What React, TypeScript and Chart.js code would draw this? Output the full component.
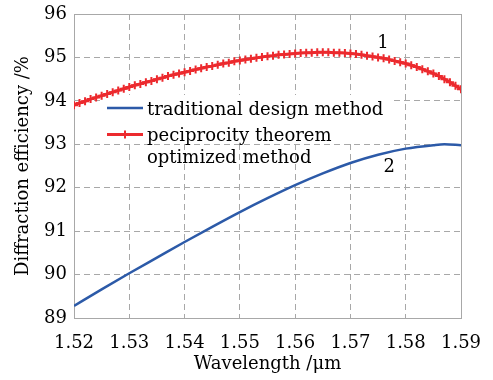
import { useEffect, useRef } from "react";
import { Chart, registerables } from "chart.js";

Chart.register(...registerables);

const WAVELENGTH_RED = [
  1.520, 1.521, 1.522, 1.523, 1.524, 1.525, 1.526, 1.527, 1.528, 1.529,
  1.530, 1.531, 1.532, 1.533, 1.534, 1.535, 1.536, 1.537, 1.538, 1.539,
  1.540, 1.541, 1.542, 1.543, 1.544, 1.545, 1.546, 1.547, 1.548, 1.549,
  1.550, 1.551, 1.552, 1.553, 1.554, 1.555, 1.556, 1.557, 1.558, 1.559,
  1.560, 1.561, 1.562, 1.563, 1.564, 1.565, 1.566, 1.567, 1.568, 1.569,
  1.570, 1.571, 1.572, 1.573, 1.574, 1.575, 1.576, 1.577, 1.578, 1.579,
  1.580, 1.581, 1.582, 1.583, 1.584, 1.585, 1.586, 1.587, 1.588, 1.589,
  1.590,
];
const EFF_RED = [
  93.90, 93.95, 93.99, 94.04, 94.08, 94.12, 94.16, 94.20, 94.24, 94.28,
  94.32, 94.36, 94.39, 94.43, 94.46, 94.50, 94.53, 94.57, 94.60, 94.63,
  94.66, 94.69, 94.72, 94.75, 94.78, 94.80, 94.83, 94.86, 94.88, 94.91,
  94.93, 94.95, 94.97, 94.99, 95.01, 95.03, 95.04, 95.06, 95.07, 95.08,
  95.09, 95.10, 95.11, 95.11, 95.12, 95.12, 95.12, 95.11, 95.11, 95.10,
  95.09, 95.08, 95.06, 95.04, 95.02, 95.00, 94.98, 94.95, 94.92, 94.89,
  94.86, 94.82, 94.78, 94.73, 94.68, 94.63, 94.57, 94.50, 94.43, 94.35,
  94.27,
];

const WAVELENGTH_BLUE = [
  1.520, 1.525, 1.530, 1.535, 1.540, 1.545, 1.550, 1.555,
  1.560, 1.565, 1.570, 1.575, 1.580, 1.585, 1.587, 1.590,
];
const EFF_BLUE = [
  89.28, 89.66, 90.03, 90.39, 90.75, 91.10, 91.44, 91.76,
  92.06, 92.33, 92.57, 92.76, 92.90, 92.98, 93.00, 92.98,
];

const X_TICKS = [1.52, 1.53, 1.54, 1.55, 1.56, 1.57, 1.58, 1.59];
const Y_TICKS = [89, 90, 91, 92, 93, 94, 95, 96];

const SERIES_NAMES = [["traditional design method"], ["peciprocity theorem", "optimized method"]];
const CURVE_LABEL_TEXT = ["1", "2"];
const CURVE_LABEL_X = [1.5759, 1.5770];
const CURVE_LABEL_Y = [95.33, 92.48];

const X_TITLE = "Wavelength /\u03bcm";
const Y_TITLE = "Diffraction efficiency /%";

const RED = "#ec2a2e";
const BLUE = "#2c5aa8";
const GRID = "#a8a8a8";
const TEXT = "#000";
const FONT = '"DejaVu Serif", "Liberation Serif", serif';

const overlayPlugin = {
  id: "overlay",
  beforeDatasetsDraw(chart: any) {
    const { ctx, chartArea } = chart;
    ctx.save();
    ctx.fillStyle = "#ffffff";
    ctx.fillRect(chartArea.left + 26, chartArea.top + 81, 290, 46);
    ctx.strokeStyle = GRID;
    ctx.lineWidth = 1;
    ctx.strokeRect(
      Math.round(chartArea.left) + 0.5,
      Math.round(chartArea.top) + 0.5,
      Math.round(chartArea.right - chartArea.left),
      Math.round(chartArea.bottom - chartArea.top)
    );
    ctx.restore();
  },
  afterDraw(chart: any) {
    const { ctx, chartArea, scales } = chart;
    ctx.save();
    ctx.font = `18px ${FONT}`;
    ctx.fillStyle = TEXT;
    ctx.textBaseline = "alphabetic";
    ctx.textAlign = "left";
    const lx0 = chartArea.left + 33;
    const lx1 = lx0 + 36;
    const tx = lx1 + 4;
    const y1 = chartArea.top + 94;
    ctx.strokeStyle = BLUE;
    ctx.lineWidth = 2.5;
    ctx.beginPath();
    ctx.moveTo(lx0, y1);
    ctx.lineTo(lx1, y1);
    ctx.stroke();
    ctx.fillText(SERIES_NAMES[0][0], tx, y1 + 6.5);
    const y2 = chartArea.top + 120.5;
    ctx.strokeStyle = RED;
    ctx.lineWidth = 3;
    ctx.beginPath();
    ctx.moveTo(lx0, y2);
    ctx.lineTo(lx1, y2);
    ctx.stroke();
    const mx = (lx0 + lx1) / 2;
    ctx.lineWidth = 2;
    ctx.beginPath();
    ctx.moveTo(mx - 4, y2);
    ctx.lineTo(mx + 4, y2);
    ctx.moveTo(mx, y2 - 4);
    ctx.lineTo(mx, y2 + 4);
    ctx.stroke();
    ctx.fillText(SERIES_NAMES[1][0], tx, y2 + 6.5);
    ctx.fillText(SERIES_NAMES[1][1], tx, y2 + 28);
    ctx.textAlign = "center";
    ctx.textBaseline = "middle";
    for (let i = 0; i < CURVE_LABEL_TEXT.length; i++) {
      ctx.fillText(
        CURVE_LABEL_TEXT[i],
        scales.x.getPixelForValue(CURVE_LABEL_X[i]),
        scales.y.getPixelForValue(CURVE_LABEL_Y[i])
      );
    }
    ctx.restore();
  },
};

export default function App() {
  const ref = useRef<HTMLCanvasElement | null>(null);

  useEffect(() => {
    let chart: any = null;
    let cancelled = false;
    const build = () => {
      if (cancelled || !ref.current) return;
      chart = new Chart(ref.current, {
        type: "line",
        data: {
          datasets: [
            {
              label: SERIES_NAMES[0].join(" "),
              data: WAVELENGTH_BLUE.map((x, i) => ({ x, y: EFF_BLUE[i] })),
              borderColor: BLUE,
              backgroundColor: BLUE,
              borderWidth: 2.5,
              pointRadius: 0,
              tension: 0.4,
              cubicInterpolationMode: "monotone",
            },
            {
              label: SERIES_NAMES[1].join(" "),
              data: WAVELENGTH_RED.map((x, i) => ({ x, y: EFF_RED[i] })),
              borderColor: RED,
              backgroundColor: RED,
              borderWidth: 3,
              pointStyle: "cross",
              pointRadius: 4,
              pointBorderWidth: 2,
              pointBorderColor: RED,
              tension: 0,
            },
          ],
        },
        options: {
          animation: false,
          responsive: false,
          maintainAspectRatio: false,
          layout: { padding: { top: 14, right: 32, left: 0, bottom: 0 } },
          plugins: {
            legend: { display: false },
            tooltip: { enabled: false },
          },
          scales: {
            x: {
              type: "linear",
              min: 1.52,
              max: 1.59,
              afterBuildTicks: (s: any) => {
                s.ticks = X_TICKS.map((v) => ({ value: v }));
              },
              afterFit: (s: any) => {
                s.height = 62;
                s.paddingLeft = 0;
                s.paddingRight = 0;
              },
              ticks: {
                autoSkip: false,
                maxRotation: 0,
                padding: 15,
                color: TEXT,
                font: { family: FONT, size: 18 },
                callback: (v: any) => Number(v).toFixed(2),
              },
              grid: { color: GRID, lineWidth: 1, drawTicks: false },
              border: { display: false, dash: [6, 4] },
              title: {
                display: true,
                text: X_TITLE,
                color: TEXT,
                font: { family: FONT, size: 18 },
                padding: { top: 0, bottom: 5 },
              },
            },
            y: {
              min: 89,
              max: 96,
              afterBuildTicks: (s: any) => {
                s.ticks = Y_TICKS.map((v) => ({ value: v }));
              },
              afterFit: (s: any) => {
                s.width = 74;
                s.paddingTop = 0;
                s.paddingBottom = 0;
              },
              ticks: {
                padding: 7,
                color: TEXT,
                font: { family: FONT, size: 18 },
              },
              grid: { color: GRID, lineWidth: 1, drawTicks: false },
              border: { display: false, dash: [6, 4] },
              title: {
                display: true,
                text: Y_TITLE,
                color: TEXT,
                font: { family: FONT, size: 18 },
                padding: { top: 13, bottom: 0 },
              },
            },
          },
        },
        plugins: [overlayPlugin],
      } as any);
    };
    const fonts: any = (document as any).fonts;
    if (fonts && fonts.load) {
      Promise.all([fonts.load('18px "DejaVu Serif"')]).then(build, build);
    } else {
      build();
    }
    return () => {
      cancelled = true;
      if (chart) chart.destroy();
    };
  }, []);

  return (
    <div style={{ position: "fixed", left: 0, top: 0, width: 493, height: 380, background: "#fff" }}>
      <span style={{ position: "absolute", left: -9999, fontFamily: FONT }}>font</span>
      <canvas ref={ref} width={493} height={380} style={{ width: 493, height: 380, display: "block" }} />
    </div>
  );
}
